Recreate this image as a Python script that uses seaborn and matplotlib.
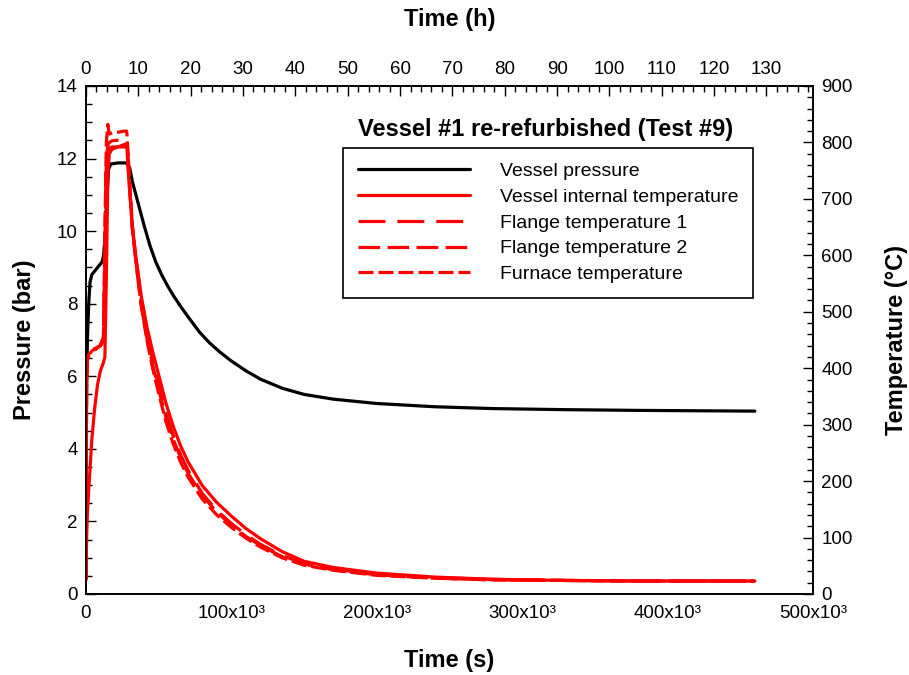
import matplotlib
matplotlib.use("Agg")
import matplotlib.pyplot as plt
from matplotlib.ticker import MultipleLocator, FuncFormatter
import numpy as np
import seaborn as sns

sns.set_style("white")
plt.rcParams['font.family'] = ['Liberation Sans', 'DejaVu Sans']
plt.rcParams['lines.scale_dashes'] = False
plt.rcParams['axes.linewidth'] = 1.2
plt.rcParams['axes.edgecolor'] = 'black'
plt.rcParams['text.color'] = 'black'
plt.rcParams['axes.labelcolor'] = 'black'
plt.rcParams['xtick.color'] = 'black'
plt.rcParams['ytick.color'] = 'black'

# Vessel pressure (bar) vs time (x10^3 s)
time_p_ks = [0, 0.3, 0.7, 1.2, 2, 2.8, 4, 6, 9, 11,
             12, 13.5, 14.5, 15.5, 17, 22, 27, 28, 30, 32,
             36, 40, 44, 48, 52, 56, 60, 65, 70, 78,
             85, 92, 100, 110, 120, 135, 150, 170, 200, 240,
             280, 330, 380, 420, 460]
pressure = [2.6, 5.5, 6.5, 7.3, 8.1, 8.6, 8.8, 8.9, 9.05, 9.15,
            9.3, 10.0, 11.0, 11.7, 11.85, 11.88, 11.88, 11.87, 11.75, 11.35,
            10.75, 10.15, 9.6, 9.15, 8.8, 8.5, 8.23, 7.93, 7.65, 7.22,
            6.92, 6.67, 6.42, 6.15, 5.92, 5.67, 5.5, 5.37, 5.25, 5.16,
            5.11, 5.08, 5.06, 5.05, 5.04]

# Temperatures (degC) vs time (x10^3 s)
time_T_ks = [0, 0.3, 0.6, 1, 2, 4, 6, 8, 10, 12,
             13, 14, 15, 16, 18, 22, 26, 28, 29, 30,
             32, 35, 38, 42, 46, 50, 55, 60, 65, 70,
             80, 90, 100, 110, 120, 135, 150, 170, 200, 240,
             280, 330, 380, 420, 460]
temp_internal = [25, 80, 115, 145, 190, 273, 330, 372, 396, 410,
                 420, 560, 740, 780, 788, 792, 796, 798, 750, 715,
                 645, 585, 528, 472, 428, 388, 338, 297, 263, 235,
                 192, 162, 138, 116, 98, 75, 58, 47, 37, 30,
                 26, 24, 23, 23, 23]
temp_flange1 = [25, 300, 400, 418, 425, 430, 434, 438, 440, 450,
                600, 770, 795, 800, 803, 804, 805, 805, 770, 725,
                648, 580, 520, 460, 412, 370, 320, 280, 247, 220,
                178, 148, 125, 105, 88, 68, 54, 44, 35, 29,
                26, 24, 23, 23, 23]
temp_flange2 = [25, 290, 395, 415, 422, 428, 432, 436, 440, 448,
                590, 760, 785, 790, 792, 792, 792, 792, 765, 720,
                643, 573, 512, 452, 404, 362, 313, 274, 242, 215,
                174, 145, 122, 102, 86, 66, 53, 43, 34, 28,
                25, 24, 23, 23, 23]
temp_furnace = [25, 330, 415, 420, 425, 430, 435, 440, 442, 455,
                650, 800, 832, 815, 817, 818, 820, 820, 780, 730,
                650, 575, 510, 448, 398, 355, 305, 266, 234, 208,
                168, 140, 118, 99, 83, 64, 51, 42, 33, 28,
                25, 24, 23, 23, 23]

t_p = np.array(time_p_ks) * 1000
t_T = np.array(time_T_ks) * 1000

fig = plt.figure(figsize=(9.09, 6.75), dpi=100)
ax = fig.add_axes([0.0946, 0.12, 0.7998, 0.7526])
ax2 = ax.twinx()

lw = 2.3
sns.lineplot(x=t_p, y=pressure, ax=ax, color='black', lw=lw, estimator=None,
             sort=False, legend=False, label='Vessel pressure')
sns.lineplot(x=t_T, y=temp_internal, ax=ax2, color='#ff0000', lw=lw, estimator=None,
             sort=False, legend=False, label='Vessel internal temperature')
sns.lineplot(x=t_T, y=temp_flange1, ax=ax2, color='#ff0000', lw=lw, estimator=None,
             sort=False, legend=False, linestyle=(0, (19.4, 8.6)),
             label='Flange temperature 1')
sns.lineplot(x=t_T, y=temp_flange2, ax=ax2, color='#ff0000', lw=lw, estimator=None,
             sort=False, legend=False, linestyle=(0, (15.6, 5.3)),
             label='Flange temperature 2')
sns.lineplot(x=t_T, y=temp_furnace, ax=ax2, color='#ff0000', lw=lw, estimator=None,
             sort=False, legend=False, linestyle=(0, (10.8, 3.6)),
             label='Furnace temperature')

# axis limits and ticks
ax.set_xlim(0, 500e3)
ax.set_ylim(0, 14)
ax2.set_ylim(0, 900)
ax.xaxis.set_major_locator(MultipleLocator(100e3))
ax.xaxis.set_minor_locator(MultipleLocator(20e3))
ax.yaxis.set_major_locator(MultipleLocator(2))
ax.yaxis.set_minor_locator(MultipleLocator(0.5))
ax2.yaxis.set_major_locator(MultipleLocator(100))
ax2.yaxis.set_minor_locator(MultipleLocator(20))
ax.xaxis.set_major_formatter(FuncFormatter(
    lambda v, pos: "0" if v == 0 else f"{int(round(v / 1000))}x10\u00b3"))

tick_fs = 13.5
ax.tick_params(which='both', direction='in', top=False, right=False,
               labelsize=tick_fs, colors='black', pad=6, width=1)
ax.tick_params(axis='x', which='both', pad=8)
ax.tick_params(which='major', length=7)
ax.tick_params(which='minor', length=4)
ax2.tick_params(which='both', direction='in', labelsize=tick_fs, pad=6, width=1)
ax2.tick_params(which='major', length=7)
ax2.tick_params(which='minor', length=4)

secx = ax2.secondary_xaxis('top', functions=(lambda s: s / 3600.0, lambda h: h * 3600.0))
secx.xaxis.set_major_locator(MultipleLocator(10))
secx.xaxis.set_minor_locator(MultipleLocator(2))
secx.tick_params(which='both', direction='in', labelsize=tick_fs, pad=6, width=1)
secx.tick_params(which='major', length=7)
secx.tick_params(which='minor', length=4)
secx.set_xlabel('Time (h)', fontsize=17, fontweight='bold', labelpad=25)

ax.set_xlabel('Time (s)', fontsize=17, fontweight='bold', labelpad=19)
ax.set_ylabel('Pressure (bar)', fontsize=17, fontweight='bold', labelpad=15)
ax2.set_ylabel('Temperature (\u00b0C)', fontsize=17, fontweight='bold', labelpad=23)

for a in (ax, ax2):
    for s in a.spines.values():
        s.set_linewidth(1.2)
        s.set_color('black')

# legend with title above it
handles = ax.get_lines() + ax2.get_lines()
leg = ax2.legend(handles=handles, labels=[h.get_label() for h in handles],
                 loc='upper left', bbox_to_anchor=(0.3535, 0.878), borderaxespad=0,
                 fontsize=14, handlelength=5.8, handletextpad=1.5, labelspacing=0.42,
                 borderpad=0.75, frameon=True, fancybox=False, framealpha=1)
leg.get_frame().set_edgecolor('black')
leg.get_frame().set_linewidth(1.2)

ax2.text(0.632, 0.915, 'Vessel #1 re-refurbished (Test #9)', transform=ax2.transAxes,
         ha='center', va='center', fontsize=17, fontweight='bold')

fig.savefig('out.png', dpi=100)
